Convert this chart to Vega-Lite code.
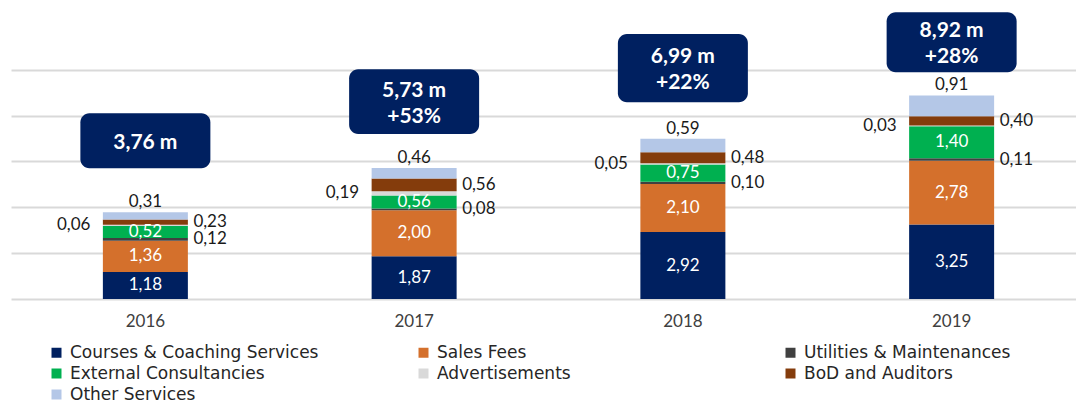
{
  "$schema": "https://vega.github.io/schema/vega-lite/v6.json",
  "width": 1075,
  "height": 298,
  "autosize": {"type": "none"},
  "padding": {"left": 11, "top": 1, "right": 0, "bottom": 101},
  "background": "white",
  "config": {
    "locale": {"number": {"decimal": ",", "thousands": ".", "grouping": [3], "currency": ["", " €"]}},
    "view": {"stroke": null},
    "font": "Lato",
    "text": {"font": "Lato"},
    "legend": {"labelFont": "DejaVu Sans"},
    "axis": {"labelFont": "Lato"}
  },
  "layer": [
    {
      "data": {
        "values": [
          {"year": "2016", "cat": "Courses & Coaching Services", "v": 1.18},
          {"year": "2016", "cat": "Sales Fees", "v": 1.36},
          {"year": "2016", "cat": "Utilities & Maintenances", "v": 0.12},
          {"year": "2016", "cat": "External Consultancies", "v": 0.52},
          {"year": "2016", "cat": "Advertisements", "v": 0.06},
          {"year": "2016", "cat": "BoD and Auditors", "v": 0.23},
          {"year": "2016", "cat": "Other Services", "v": 0.31},
          {"year": "2017", "cat": "Courses & Coaching Services", "v": 1.87},
          {"year": "2017", "cat": "Sales Fees", "v": 2.00},
          {"year": "2017", "cat": "Utilities & Maintenances", "v": 0.08},
          {"year": "2017", "cat": "External Consultancies", "v": 0.56},
          {"year": "2017", "cat": "Advertisements", "v": 0.19},
          {"year": "2017", "cat": "BoD and Auditors", "v": 0.56},
          {"year": "2017", "cat": "Other Services", "v": 0.46},
          {"year": "2018", "cat": "Courses & Coaching Services", "v": 2.92},
          {"year": "2018", "cat": "Sales Fees", "v": 2.10},
          {"year": "2018", "cat": "Utilities & Maintenances", "v": 0.10},
          {"year": "2018", "cat": "External Consultancies", "v": 0.75},
          {"year": "2018", "cat": "Advertisements", "v": 0.05},
          {"year": "2018", "cat": "BoD and Auditors", "v": 0.48},
          {"year": "2018", "cat": "Other Services", "v": 0.59},
          {"year": "2019", "cat": "Courses & Coaching Services", "v": 3.25},
          {"year": "2019", "cat": "Sales Fees", "v": 2.78},
          {"year": "2019", "cat": "Utilities & Maintenances", "v": 0.11},
          {"year": "2019", "cat": "External Consultancies", "v": 1.40},
          {"year": "2019", "cat": "Advertisements", "v": 0.03},
          {"year": "2019", "cat": "BoD and Auditors", "v": 0.40},
          {"year": "2019", "cat": "Other Services", "v": 0.91}
        ]
      },
      "transform": [
        {"calculate": "indexof(['Courses & Coaching Services','Sales Fees','Utilities & Maintenances','External Consultancies','Advertisements','BoD and Auditors','Other Services'], datum.cat)", "as": "o"},
        {"stack": "v", "groupby": ["year"], "sort": [{"field": "o", "order": "ascending"}], "as": ["y0", "y1"]},
        {"calculate": "(datum.y0 + datum.y1) / 2", "as": "mid"}
      ],
      "layer": [
        {
          "mark": {"type": "bar", "width": 85},
          "encoding": {
            "x": {"field": "year", "type": "ordinal", "scale": {"paddingInner": 0, "paddingOuter": 0},
              "axis": {"title": null, "labelAngle": 0, "domain": false, "ticks": false, "grid": false, "labelPadding": 14, "labelFontSize": 17, "labelColor": "#404040"}},
            "y": {"field": "y1", "type": "quantitative", "title": null,
              "scale": {"domain": [0, 13], "nice": false},
              "axis": {"title": null, "labels": false, "ticks": false, "domain": false, "values": [0, 2, 4, 6, 8, 10], "gridColor": "#d9d9d9", "gridWidth": 2}},
            "y2": {"field": "y0"},
            "color": {
              "field": "cat", "type": "nominal",
              "scale": {
                "domain": ["Courses & Coaching Services", "Sales Fees", "Utilities & Maintenances", "External Consultancies", "Advertisements", "BoD and Auditors", "Other Services"],
                "range": ["#002060", "#D4702C", "#404040", "#00B050", "#D9D9D9", "#843C0C", "#B4C7E7"]
              },
              "legend": {
                "title": null, "orient": "none", "legendX": 37, "legendY": 343, "columns": 3, "gridAlign": "all", "direction": "horizontal",
                "values": ["Courses & Coaching Services", "Sales Fees", "Utilities & Maintenances", "External Consultancies", "Advertisements", "BoD and Auditors", "Other Services"],
                "columnPadding": 96, "rowPadding": 3, "symbolType": "square", "symbolSize": 100, "symbolStrokeWidth": 0,
                "labelFontSize": 17, "labelColor": "#262626", "labelOffset": 5, "labelLimit": 400, "padding": 0
              }
            },
            "order": {"field": "o"}
          }
        },
        {
          "transform": [{"filter": {"field": "o", "oneOf": [0, 1, 3]}}],
          "mark": {"type": "text", "color": "white", "fontSize": 17, "baseline": "middle"},
          "encoding": {
            "x": {"field": "year", "type": "ordinal"},
            "y": {"field": "mid", "type": "quantitative", "title": null},
            "text": {"field": "v", "type": "quantitative", "format": ".2f"}
          }
        },
        {
          "transform": [{"filter": {"field": "o", "oneOf": [2, 5]}}],
          "mark": {"type": "text", "color": "#1a1a1a", "fontSize": 17, "baseline": "middle", "align": "left", "dx": 48},
          "encoding": {
            "x": {"field": "year", "type": "ordinal"},
            "y": {"field": "mid", "type": "quantitative", "title": null},
            "text": {"field": "v", "type": "quantitative", "format": ".2f"}
          }
        },
        {
          "transform": [{"filter": {"field": "o", "equal": 4}}],
          "mark": {"type": "text", "color": "#1a1a1a", "fontSize": 17, "baseline": "middle", "align": "right", "dx": -55},
          "encoding": {
            "x": {"field": "year", "type": "ordinal"},
            "y": {"field": "mid", "type": "quantitative", "title": null},
            "text": {"field": "v", "type": "quantitative", "format": ".2f"}
          }
        },
        {
          "transform": [{"filter": {"field": "o", "equal": 6}}],
          "mark": {"type": "text", "color": "#1a1a1a", "fontSize": 17, "baseline": "middle", "dy": -10},
          "encoding": {
            "x": {"field": "year", "type": "ordinal"},
            "y": {"field": "y1", "type": "quantitative", "title": null},
            "text": {"field": "v", "type": "quantitative", "format": ".2f"}
          }
        }
      ]
    },
    {
      "data": {
        "values": [
          {"year": "2016", "total": "3,76 m", "growth": null, "top": 8.10, "bot": 5.70},
          {"year": "2017", "total": "5,73 m", "growth": "+53%", "top": 10.02, "bot": 7.20},
          {"year": "2018", "total": "6,99 m", "growth": "+22%", "top": 11.56, "bot": 8.58},
          {"year": "2019", "total": "8,92 m", "growth": "+28%", "top": 12.51, "bot": 9.89}
        ]
      },
      "transform": [{"calculate": "(datum.top + datum.bot) / 2", "as": "bm"}],
      "layer": [
        {
          "mark": {"type": "bar", "width": 130, "cornerRadius": 9, "color": "#002060"},
          "encoding": {
            "x": {"field": "year", "type": "ordinal"},
            "y": {"field": "top", "type": "quantitative", "title": null},
            "y2": {"field": "bot"}
          }
        },
        {
          "transform": [{"filter": "datum.growth == null"}],
          "mark": {"type": "text", "color": "white", "fontSize": 21, "fontWeight": "bold", "baseline": "middle", "dy": 2},
          "encoding": {
            "x": {"field": "year", "type": "ordinal"},
            "y": {"field": "bm", "type": "quantitative", "title": null},
            "text": {"field": "total", "type": "nominal"}
          }
        },
        {
          "transform": [{"filter": "datum.growth != null"}],
          "mark": {"type": "text", "color": "white", "fontSize": 21, "fontWeight": "bold", "baseline": "middle", "dy": -11},
          "encoding": {
            "x": {"field": "year", "type": "ordinal"},
            "y": {"field": "bm", "type": "quantitative", "title": null},
            "text": {"field": "total", "type": "nominal"}
          }
        },
        {
          "transform": [{"filter": "datum.growth != null"}],
          "mark": {"type": "text", "color": "white", "fontSize": 21, "fontWeight": "bold", "baseline": "middle", "dy": 15},
          "encoding": {
            "x": {"field": "year", "type": "ordinal"},
            "y": {"field": "bm", "type": "quantitative", "title": null},
            "text": {"field": "growth", "type": "nominal"}
          }
        }
      ]
    }
  ]
}
